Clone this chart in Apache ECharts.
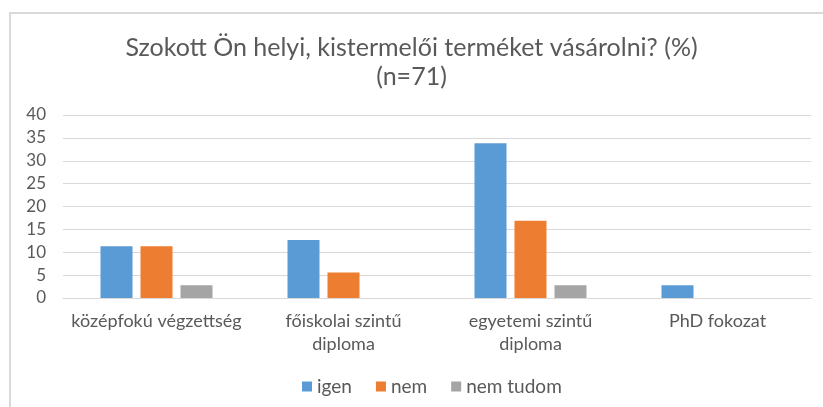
<!DOCTYPE html>
<html>
<head>
<meta charset="utf-8">
<script src="https://cdn.jsdelivr.net/npm/echarts@6/dist/echarts.min.js"></script>
<style>
  html, body { margin: 0; padding: 0; background: #fff; }
  #frame { position: absolute; left: 9px; top: 12px; right: 0; bottom: 0; border-left: 2px solid #d9d9d9; border-top: 2px solid #d9d9d9; }
  #chart { position: absolute; left: 0; top: 0; width: 823px; height: 407px; }
</style>
</head>
<body>
<div id="frame"></div>
<div id="chart"></div>
<script>
// Szokott Ön helyi, kistermelői terméket vásárolni? (%) - n=71
var categories = ['középfokú végzettség', 'főiskolai szintű diploma', 'egyetemi szintű diploma', 'PhD fokozat']
var igen = [11.3, 12.7, 33.8, 2.8]
var nem = [11.3, 5.6, 16.9, 0]
var nemTudom = [2.8, 0, 2.8, 0]
var yTicks = { min: 0, max: 40, interval: 5 }

var textColor = '#595959'
var fontFamily = 'Lato, "Open Sans", sans-serif'

var chart = echarts.init(document.getElementById('chart'), null, { renderer: 'canvas' })
chart.setOption({
  animation: false,
  textStyle: { fontFamily: fontFamily },
  title: {
    text: 'Szokott Ön helyi, kistermelői terméket vásárolni? (%)\n(n=71)',
    left: 'center',
    top: 28,
    textStyle: {
      color: textColor,
      fontSize: 25,
      fontWeight: 'normal',
      fontFamily: fontFamily,
      lineHeight: 29
    }
  },
  grid: {
    left: 63,
    right: 12,
    top: 115,
    bottom: 109
  },
  legend: {
    bottom: 6,
    left: 297,
    itemWidth: 10,
    itemHeight: 10,
    itemGap: 24,
    icon: 'rect',
    textStyle: { color: textColor, fontSize: 19, fontFamily: fontFamily },
    data: ['igen', 'nem', 'nem tudom']
  },
  xAxis: {
    type: 'category',
    data: categories,
    axisLine: { show: true, lineStyle: { color: '#d9d9d9', width: 1 } },
    axisTick: { show: false },
    axisLabel: {
      color: textColor,
      fontSize: 18,
      margin: 12,
      lineHeight: 23,
      interval: 0,
      formatter: function (v) {
        return v.replace(' diploma', '\ndiploma')
      }
    }
  },
  yAxis: {
    type: 'value',
    min: yTicks.min,
    max: yTicks.max,
    interval: yTicks.interval,
    axisLine: { show: false },
    axisTick: { show: false },
    axisLabel: { color: textColor, fontSize: 17, margin: 17 },
    splitLine: { lineStyle: { color: '#d9d9d9', width: 1 } }
  },
  series: [
    {
      name: 'igen',
      type: 'bar',
      data: igen,
      barWidth: 32,
      barGap: '25%',
      itemStyle: { color: '#5b9bd5' }
    },
    {
      name: 'nem',
      type: 'bar',
      data: nem,
      barWidth: 32,
      barGap: '25%',
      itemStyle: { color: '#ed7d31' }
    },
    {
      name: 'nem tudom',
      type: 'bar',
      data: nemTudom,
      barWidth: 32,
      barGap: '25%',
      itemStyle: { color: '#a5a5a5' }
    }
  ]
})
</script>
</body>
</html>
